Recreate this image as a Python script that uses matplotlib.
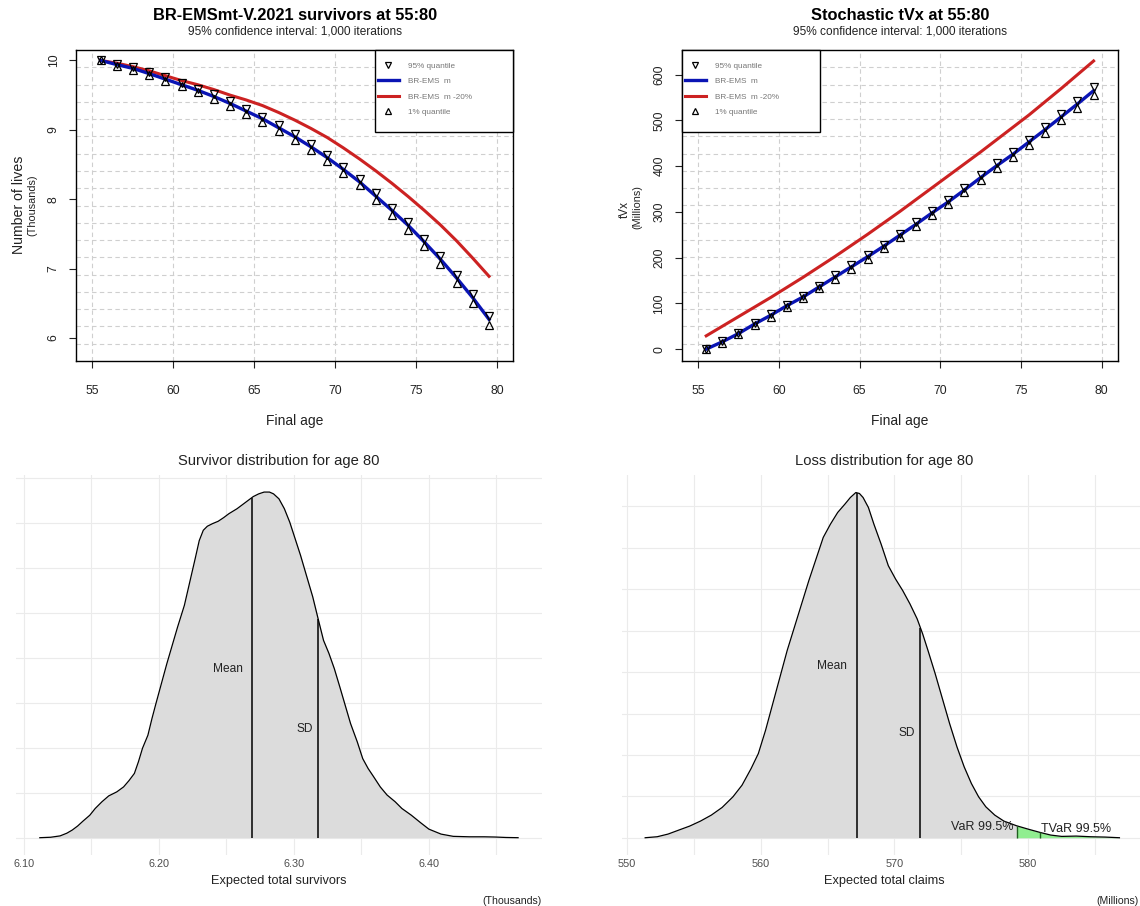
import numpy as np
import matplotlib.pyplot as plt
from matplotlib.patches import Rectangle

plt.rcParams["font.family"] = ["Liberation Sans", "DejaVu Sans"]

W, H = 1140, 906

# ---- data ----
ages = [55.5, 56.5, 57.5, 58.5, 59.5, 60.5, 61.5, 62.5, 63.5, 64.5, 65.5, 66.5,
        67.5, 68.5, 69.5, 70.5, 71.5, 72.5, 73.5, 74.5, 75.5, 76.5, 77.5, 78.5, 79.5]

# survivors (thousands)
surv_base = [10.0, 9.94, 9.885, 9.81, 9.73, 9.65, 9.57, 9.48, 9.38, 9.27, 9.16, 9.03,
             8.90, 8.755, 8.60, 8.43, 8.25, 8.045, 7.84, 7.625, 7.385, 7.135, 6.865, 6.58, 6.27]
surv_m20 = [10.0, 9.96, 9.91, 9.85, 9.78, 9.71, 9.65, 9.58, 9.50, 9.43, 9.35, 9.25,
            9.14, 9.02, 8.89, 8.74, 8.58, 8.41, 8.23, 8.04, 7.84, 7.63, 7.40, 7.15, 6.89]
surv_q95 = [10.0, 9.955, 9.90, 9.83, 9.755, 9.675, 9.595, 9.51, 9.41, 9.30, 9.19, 9.065,
            8.935, 8.79, 8.635, 8.47, 8.29, 8.085, 7.88, 7.67, 7.43, 7.18, 6.91, 6.63, 6.32]
surv_q01 = [10.0, 9.925, 9.865, 9.79, 9.705, 9.625, 9.54, 9.45, 9.345, 9.235, 9.12, 8.99,
            8.855, 8.71, 8.55, 8.38, 8.20, 7.99, 7.78, 7.56, 7.32, 7.07, 6.795, 6.505, 6.19]

# tVx (millions)
tvx_base = [0, 16, 34, 55, 74, 95, 114, 136, 158, 180, 202, 225,
            249, 273, 298, 322, 348, 375, 401, 426, 453, 480, 508, 536, 565]
tvx_m20 = [29, 50, 71, 92, 113, 135, 157, 180, 203, 227, 251, 276,
           301, 327, 353, 379, 405, 431, 458, 485, 512, 541, 570, 600, 630]
tvx_q95 = [0, 18, 36, 57, 76, 97, 117, 139, 161, 183, 205, 228,
           252, 277, 302, 326, 352, 380, 406, 431, 458, 486, 514, 543, 573]
tvx_q01 = [0, 14, 32, 53, 71, 92, 111, 133, 154, 176, 198, 221,
           245, 269, 293, 317, 343, 369, 395, 420, 446, 473, 501, 528, 556]

# survivor density at age 80
sd_x = [6.112, 6.120, 6.127, 6.132, 6.136, 6.140, 6.144, 6.149, 6.153, 6.158, 6.163,
        6.169, 6.174, 6.178, 6.182, 6.185, 6.188, 6.192, 6.195, 6.198, 6.202, 6.206,
        6.210, 6.214, 6.219, 6.223, 6.227, 6.230, 6.233, 6.236, 6.240, 6.244, 6.248,
        6.252, 6.258, 6.262, 6.266, 6.270, 6.274, 6.278, 6.282, 6.285, 6.289, 6.293,
        6.297, 6.301, 6.305, 6.309, 6.314, 6.318, 6.322, 6.326, 6.330, 6.334, 6.338,
        6.342, 6.347, 6.351, 6.355, 6.359, 6.364, 6.369, 6.375, 6.380, 6.387, 6.394,
        6.400, 6.409, 6.418, 6.430, 6.441, 6.449, 6.457, 6.466]
sd_y = [0.0, 0.01, 0.04, 0.10, 0.17, 0.26, 0.37, 0.50, 0.65, 0.80, 0.93,
        1.02, 1.13, 1.27, 1.43, 1.69, 1.99, 2.28, 2.65, 2.99, 3.43, 3.87,
        4.28, 4.69, 5.17, 5.69, 6.21, 6.61, 6.84, 6.93, 6.99, 7.04, 7.12,
        7.21, 7.32, 7.41, 7.50, 7.59, 7.65, 7.69, 7.69, 7.65, 7.54, 7.32,
        7.02, 6.65, 6.28, 5.87, 5.36, 4.87, 4.39, 4.10, 3.76, 3.36, 2.95,
        2.54, 2.13, 1.76, 1.54, 1.36, 1.13, 0.95, 0.80, 0.65, 0.50, 0.33,
        0.19, 0.08, 0.03, 0.02, 0.02, 0.015, 0.005, 0.0]
surv_mean, surv_sd_line = 6.269, 6.318

# loss density at age 80
ld_x = [551.35, 552.25, 553.06, 553.87, 554.68, 555.49, 556.30, 557.11, 557.92, 558.60,
        559.28, 559.82, 560.36, 560.90, 561.44, 561.98, 562.52, 563.06, 563.60, 564.14,
        564.68, 565.22, 565.76, 566.30, 566.71, 567.12, 567.39, 567.66, 568.06, 568.47,
        569.01, 569.55, 570.09, 570.63, 571.17, 571.71, 572.12, 572.52, 573.06, 573.60,
        574.14, 574.69, 575.23, 575.77, 576.31, 576.85, 577.52, 578.20, 579.15, 580.09,
        580.90, 581.71, 582.53, 583.61, 584.69, 585.77, 586.85]
ld_y = [0.0, 0.00024, 0.00088, 0.00185, 0.00281, 0.00402, 0.00546, 0.00731, 0.00988, 0.01269,
        0.01671, 0.02032, 0.02594, 0.03237, 0.03880, 0.04522, 0.05084, 0.05647, 0.06209, 0.06731,
        0.07253, 0.07574, 0.07855, 0.08056, 0.08217, 0.08337, 0.08313, 0.08217, 0.07976, 0.07574,
        0.07092, 0.06570, 0.06249, 0.05968, 0.05647, 0.05285, 0.04924, 0.04522, 0.03960, 0.03357,
        0.02755, 0.02193, 0.01711, 0.01309, 0.00988, 0.00747, 0.00546, 0.00402, 0.00289, 0.00201,
        0.00129, 0.00064, 0.00032, 0.00040, 0.00024, 0.00016, 0.0]
loss_mean, loss_sd_line, loss_var, loss_tvar = 567.2, 571.95, 579.15, 580.9

BLUE = "#0a14b4"
RED = "#cc2222"
TXT = "#222222"


def box(l, t, r, b):
    return [l / W, 1 - b / H, (r - l) / W, (b - t) / H]


fig = plt.figure(figsize=(W / 100, H / 100), dpi=100)


def top_panel(px, base, m20, q95, q01, ylim, yticks, title, leg_px):
    l, t, r, b = px
    ax = fig.add_axes(box(l, t, r, b))
    ax.set_xlim(54, 81)
    ax.set_ylim(*ylim)
    ax.set_xticks([55, 60, 65, 70, 75, 80])
    ax.set_yticks(yticks)
    ax.set_yticklabels([str(v) for v in yticks], rotation=90, va="center")
    ax.tick_params(axis="x", length=5, pad=12, labelsize=8.7, colors=TXT)
    ax.tick_params(axis="y", length=5, pad=7, labelsize=8.7, colors=TXT)
    for v in [55, 60, 65, 70, 75, 80]:
        ax.axvline(v, color="#cfcfcf", ls=(0, (4, 3)), lw=0.8, zorder=0)
    for v in np.linspace(ylim[0], ylim[1], 19)[1:-1]:
        ax.axhline(v, color="#cfcfcf", ls=(0, (4, 3)), lw=0.8, zorder=0)
    for s in ax.spines.values():
        s.set_linewidth(1.0)
    ax.plot(ages, m20, color=RED, lw=2.2, zorder=2, label="BR-EMS  m -20%")
    ax.plot(ages, base, color=BLUE, lw=2.4, zorder=3, label="BR-EMS  m")
    ax.plot(ages, q95, ls="none", marker="v", ms=5.8, mfc="none", mec="black", mew=0.9,
            zorder=4, label="95% quantile")
    ax.plot(ages, q01, ls="none", marker="^", ms=5.8, mfc="none", mec="black", mew=0.9,
            zorder=4, label="1% quantile")

    # legend box drawn by hand to get R's spacing
    aw, ah = r - l, b - t
    lx0, lx1, ly1 = leg_px
    ax.add_patch(Rectangle(((lx0 - l) / aw, (b - ly1) / ah), (lx1 - lx0) / aw, (ly1 - t) / ah,
                           transform=ax.transAxes, facecolor="white", edgecolor="black",
                           lw=1.0, zorder=5, clip_on=False))
    h, lab = ax.get_legend_handles_labels()
    order = [2, 1, 0, 3]
    leg = ax.legend([h[i] for i in order], [lab[i] for i in order], loc="upper left",
                    bbox_to_anchor=((lx0 + 2.5 - l) / aw, 1 - 12 / ah),
                    fontsize=5.9, frameon=False, borderpad=0, borderaxespad=0,
                    labelspacing=0.95, handlelength=2.6, handletextpad=1.1, markerscale=0.7)
    leg.set_zorder(6)
    for tx in leg.get_texts():
        tx.set_color("#777777")

    cx = (l + r) / 2 / W
    fig.text(cx, 1 - 16 / H, title, ha="center", va="center", fontsize=11.8, fontweight="bold")
    fig.text(cx, 1 - 32 / H, "95% confidence interval: 1,000 iterations", ha="center",
             va="center", fontsize=8.6, color=TXT)
    fig.text(cx, 1 - 421 / H, "Final age", ha="center", va="center", fontsize=10, color=TXT)
    return ax


ax1 = top_panel((76.3, 50, 513.3, 361), surv_base, surv_m20, surv_q95, surv_q01,
                (5.67, 10.15), [6, 7, 8, 9, 10],
                "BR-EMSmt-V.2021 survivors at 55:80", (375.1, 513.3, 132))
fig.text(19.5 / W, 1 - 205 / H, "Number of lives", rotation=90, ha="center", va="center",
         fontsize=10.2, color=TXT)
fig.text(32.7 / W, 1 - 205 / H, "(Thousands)", rotation=90, ha="center", va="center",
         fontsize=7.8, color=TXT)

ax2 = top_panel((682, 50, 1117.8, 361), tvx_base, tvx_m20, tvx_q95, tvx_q01,
                (-26, 654), [0, 100, 200, 300, 400, 500, 600],
                "Stochastic tVx at 55:80", (682, 820.1, 132))
fig.text(624.5 / W, 1 - 210 / H, "tVx", rotation=90, ha="center", va="center",
         fontsize=8.5, color=TXT)
fig.text(637.6 / W, 1 - 207 / H, "(Millions)", rotation=90, ha="center", va="center",
         fontsize=7.8, color=TXT)


def dens_panel(px, x, y, xlim, ylim, xticks, xminor, ygrid, title, xlab, unit, cx, unit_right):
    ax = fig.add_axes(box(*px))
    ax.set_xlim(*xlim)
    ax.set_ylim(*ylim)
    for s in ax.spines.values():
        s.set_visible(False)
    for v in xticks + xminor:
        ax.axvline(v, color="#ebebeb", lw=0.8, zorder=0)
    for v in ygrid:
        ax.axhline(v, color="#ebebeb", lw=0.8, zorder=0)
    ax.set_xticks(xticks)
    ax.set_yticks([])
    ax.tick_params(axis="x", length=0, pad=3, labelsize=7.8, colors="#4d4d4d")
    ax.fill_between(x, 0, y, color="#dcdcdc", lw=0, zorder=1)
    ax.plot(x, y, color="black", lw=0.9, zorder=3)
    fig.text(cx / W, 1 - 461 / H, title, ha="center", va="center", fontsize=10.6, color=TXT)
    fig.text(cx / W, 1 - 881 / H, xlab, ha="center", va="center", fontsize=9.2, color=TXT)
    fig.text(unit_right / W, 1 - 901 / H, unit, ha="right", va="center", fontsize=7.6, color=TXT)
    return ax


ax3 = dens_panel((15.5, 475, 542.4, 855), sd_x, sd_y, (6.094, 6.484), (-0.385, 8.07),
                 [6.10, 6.20, 6.30, 6.40], [6.15, 6.25, 6.35, 6.45], list(range(0, 9)),
                 "Survivor distribution for age 80", "Expected total survivors", "(Thousands)",
                 279.2, 541.6)
ax3.set_xticklabels(["6.10", "6.20", "6.30", "6.40"])
ax3.vlines([surv_mean, surv_sd_line], 0, np.interp([surv_mean, surv_sd_line], sd_x, sd_y),
           color="black", lw=1.1, zorder=4)
ax3.text(6.251, 3.76, "Mean", ha="center", va="center", fontsize=8.6, color=TXT)
ax3.text(6.308, 2.42, "SD", ha="center", va="center", fontsize=8.6, color=TXT)

ax4 = dens_panel((621.8, 475, 1142.8, 855), ld_x, ld_y, (549.6, 588.6), (-0.00417, 0.0876),
                 [550, 560, 570, 580], [555, 565, 575, 585],
                 [i / 100 for i in range(0, 9)],
                 "Loss distribution for age 80", "Expected total claims", "(Millions)",
                 884.4, 1138.5)
tx = [loss_var] + [v for v in ld_x if v > loss_var]
ty = [float(np.interp(loss_var, ld_x, ld_y))] + [v for v, k in zip(ld_y, ld_x) if k > loss_var]
ax4.fill_between(tx, 0, ty, color="#90ee90", lw=0, zorder=2)
ax4.vlines([loss_mean, loss_sd_line], 0, np.interp([loss_mean, loss_sd_line], ld_x, ld_y),
           color="black", lw=1.1, zorder=4)
ax4.vlines([loss_var, loss_tvar], 0, np.interp([loss_var, loss_tvar], ld_x, ld_y),
           color="#1f5f1f", lw=1.0, zorder=4)
ax4.text(565.36, 0.0414, "Mean", ha="center", va="center", fontsize=8.6, color=TXT)
ax4.text(570.9, 0.0253, "SD", ha="center", va="center", fontsize=8.6, color=TXT)
ax4.text(578.9, 0.0027, "VaR 99.5%", ha="right", va="center", fontsize=9, color=TXT)
ax4.text(581.0, 0.0022, "TVaR 99.5%", ha="left", va="center", fontsize=9, color=TXT)

fig.savefig("out.png", dpi=100)
